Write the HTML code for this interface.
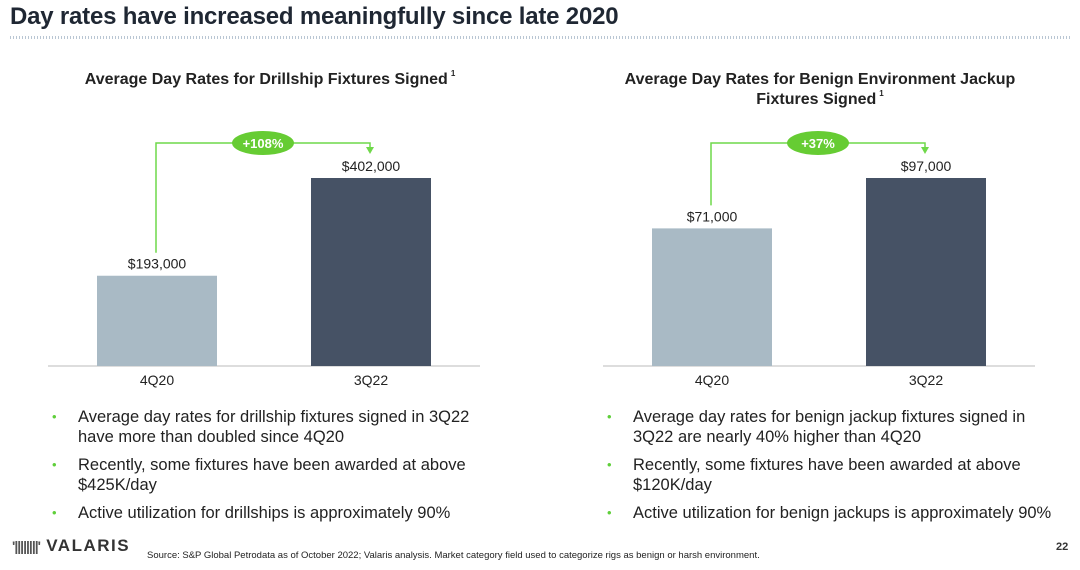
<!DOCTYPE html>
<html><head><meta charset="utf-8"><style>
body{margin:0;width:1080px;height:570px;background:#fff;font-family:"Liberation Sans",sans-serif;overflow:hidden;position:relative;color:#222}
.abs{position:absolute}
h1{position:absolute;left:10px;top:3px;margin:0;font-size:24px;font-weight:bold;color:#1f2733;letter-spacing:-0.2px}
.dots{position:absolute;left:10px;top:36px;width:1060px;height:3px;background:repeating-linear-gradient(90deg,#b9c6d3 0 1px,transparent 1px 3px)}
.ct{position:absolute;font-weight:bold;font-size:16px;text-align:center;color:#222;line-height:20px}
.ct sup{font-size:8px;line-height:0;position:relative;top:-2px;margin-left:3px}
ul{position:absolute;margin:0;padding:0;list-style:none;font-size:16.5px;line-height:20px;color:#222}
li{position:relative;padding-left:28px;margin-bottom:8px}
li:before{content:"•";color:#5fcf3a;position:absolute;left:2px;font-size:13px}
</style></head><body>
<h1>Day rates have increased meaningfully since late 2020</h1>
<div class="dots"></div>
<div class="ct" style="left:40px;top:70px;width:460px">Average Day Rates for Drillship Fixtures Signed<sup>1</sup></div>
<div class="ct" style="left:605px;top:70px;width:430px">Average Day Rates for Benign Environment Jackup Fixtures Signed<sup>1</sup></div>
<svg class="abs" style="left:0;top:0" width="1080" height="570" id="chart"></svg>
<ul style="left:50px;top:407px;width:440px">
<li>Average day rates for drillship fixtures signed in 3Q22 have more than doubled since 4Q20</li>
<li>Recently, some fixtures have been awarded at above $425K/day</li>
<li>Active utilization for drillships is approximately 90%</li></ul>
<ul style="left:605px;top:407px;width:460px">
<li>Average day rates for benign jackup fixtures signed in 3Q22 are nearly 40% higher than 4Q20</li>
<li>Recently, some fixtures have been awarded at above $120K/day</li>
<li>Active utilization for benign jackups is approximately 90%</li></ul>
<div class="abs" style="left:12px;top:536px;font-size:17px;font-weight:bold;color:#333;letter-spacing:1.5px"><span style="font-size:14px;letter-spacing:-1px;color:#555">'||||||||'</span> VALARIS</div>
<div class="abs" style="left:147px;top:550px;font-size:9.5px;color:#222">Source: S&amp;P Global Petrodata as of October 2022; Valaris analysis. Market category field used to categorize rigs as benign or harsh environment.</div>
<div class="abs" style="left:1056px;top:541px;font-size:11px;font-weight:bold;color:#333">22</div>
<script>
const categories=["4Q20","3Q22"];
const drillshipValues=[193000,402000];
const jackupValues=[71000,97000];
const drillshipLabels=["$193,000","$402,000"];
const jackupLabels=["$71,000","$97,000"];
const changeLabels=["+108%","+37%"];
const ns="http://www.w3.org/2000/svg",svg=document.getElementById('chart');
function mk(t,a){const e=document.createElementNS(ns,t);for(const k in a)e.setAttribute(k,a[k]);svg.appendChild(e);return e;}
function draw(x0,vals,labels,change,maxV,maxH,prefix){
 const base=366,bx=[x0+49,x0+263],bw=120,colors=["#a9bac5","#465265"];
 const y=v=>base-v/maxV*maxH;
 const ax=mk('line',{x1:x0,x2:x0+432,y1:base,y2:base,stroke:'#bbb','stroke-width':1});
 
 
 vals.forEach((v,i)=>{
  const r=mk('rect',{x:bx[i],y:y(v),width:bw,height:base-y(v),fill:colors[i]});
  
  
  const t=mk('text',{x:bx[i]+bw/2,y:y(v)-7,'text-anchor':'middle','font-size':14,fill:'#222','font-family':'Liberation Sans'});t.textContent=labels[i];
  
  
  const c=mk('text',{x:bx[i]+bw/2,y:base+19,'text-anchor':'middle','font-size':14,fill:'#222','font-family':'Liberation Sans'});c.textContent=categories[i];
  
  
 });
 const lx=bx[0]+59,rx=bx[1]+59,ty=143;
 const p=mk('path',{d:`M${lx} ${y(vals[0])-23} V${ty} H${rx} V${y(vals[1])-30}`,fill:'none',stroke:'#6fd84a','stroke-width':1.5});
 
 
 const ar=mk('path',{d:`M${rx-4} ${y(vals[1])-31} L${rx+4} ${y(vals[1])-31} L${rx} ${y(vals[1])-24}Z`,fill:'#6fd84a'});
 
 
 const cx=(lx+rx)/2;
 const el=mk('ellipse',{cx:cx,cy:ty,rx:31,ry:12,fill:'#66cc33'});
 
 
 const tt=mk('text',{x:cx,y:ty+5,'text-anchor':'middle','font-size':13,'font-weight':'bold',fill:'#fff','font-family':'Liberation Sans'});tt.textContent=change;
 
 
}
draw(48,drillshipValues,drillshipLabels,changeLabels[0],402000,188,'drillship');
draw(603,jackupValues,jackupLabels,changeLabels[1],97000,188,'jackup');
</script>
</body></html>
